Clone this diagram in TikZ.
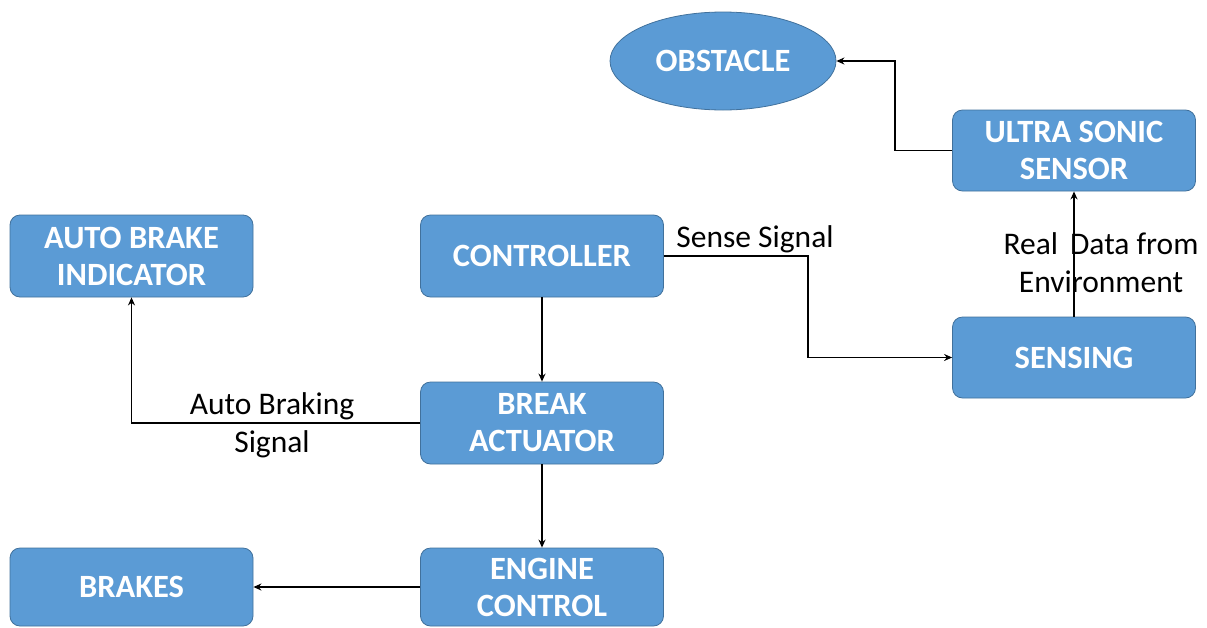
\documentclass[tikz,border=0pt]{standalone}
\usepackage{fontspec}
\setmainfont{Carlito}
\usetikzlibrary{shapes.geometric,arrows.meta}
\definecolor{boxfill}{HTML}{5B9BD5}
\definecolor{boxline}{HTML}{41719C}
\begin{document}
\begin{tikzpicture}[x=1pt,y=-1pt,
  blk/.style={draw=boxline,line width=0.8pt,fill=boxfill,rounded corners=10pt,
    text=white,font=\fontsize{32.5}{37}\selectfont\bfseries,align=center,
    minimum width=243pt,inner sep=0pt},
  oval/.style={draw=boxline,line width=0.8pt,fill=boxfill,ellipse,
    text=white,font=\fontsize{32.5}{37}\selectfont\bfseries,
    minimum width=226pt,minimum height=98pt,inner sep=0pt},
  lbl/.style={font=\fontsize{31.5}{38}\selectfont,align=center,text=black},
  arr/.style={draw=black,line width=1.6pt,-{Stealth[length=8pt,width=7pt]}}]
\useasboundingbox (0,0) rectangle (1207,627);
\node[blk,minimum height=82pt] (abi) at (131.5,256) {AUTO BRAKE\\INDICATOR};
\node[blk,minimum height=82pt] (ctrl) at (542,256) {CONTROLLER};
\node[blk,minimum height=82pt] (ba) at (542,423) {BREAK\\ACTUATOR};
\node[blk,minimum height=78pt] (ec) at (542,587) {ENGINE\\CONTROL};
\node[blk,minimum height=78pt] (brk) at (131.5,587) {BRAKES};
\node[blk,minimum height=81pt] (uss) at (1074,150.5) {ULTRA SONIC\\SENSOR};
\node[blk,minimum height=81pt] (sens) at (1074,357.5) {SENSING};
\node[oval] (obs) at (723,61) {OBSTACLE};
\coordinate (c1) at (895,150.5);
\coordinate (c2) at (808,256);
\draw[arr] (uss.west) -- (c1) |- (obs.east);
\draw[arr] (sens.north) -- (uss.south);
\draw[arr] (ctrl.east) -- (c2) |- (sens.west);
\draw[arr] (ctrl.south) -- (ba.north);
\draw[arr] (ba.west) -| (abi.south);
\draw[arr] (ba.south) -- (ec.north);
\draw[arr] (ec.west) -- (brk.east);
\node[lbl] (ss) at (755,239) {Sense Signal};
\node[lbl] (abs) at (272,425) {Auto Braking\\Signal};
\node[lbl] (rd) at (1101,263) {Real\hspace{0.38em}Data from\\Environment};
\end{tikzpicture}
\end{document}
